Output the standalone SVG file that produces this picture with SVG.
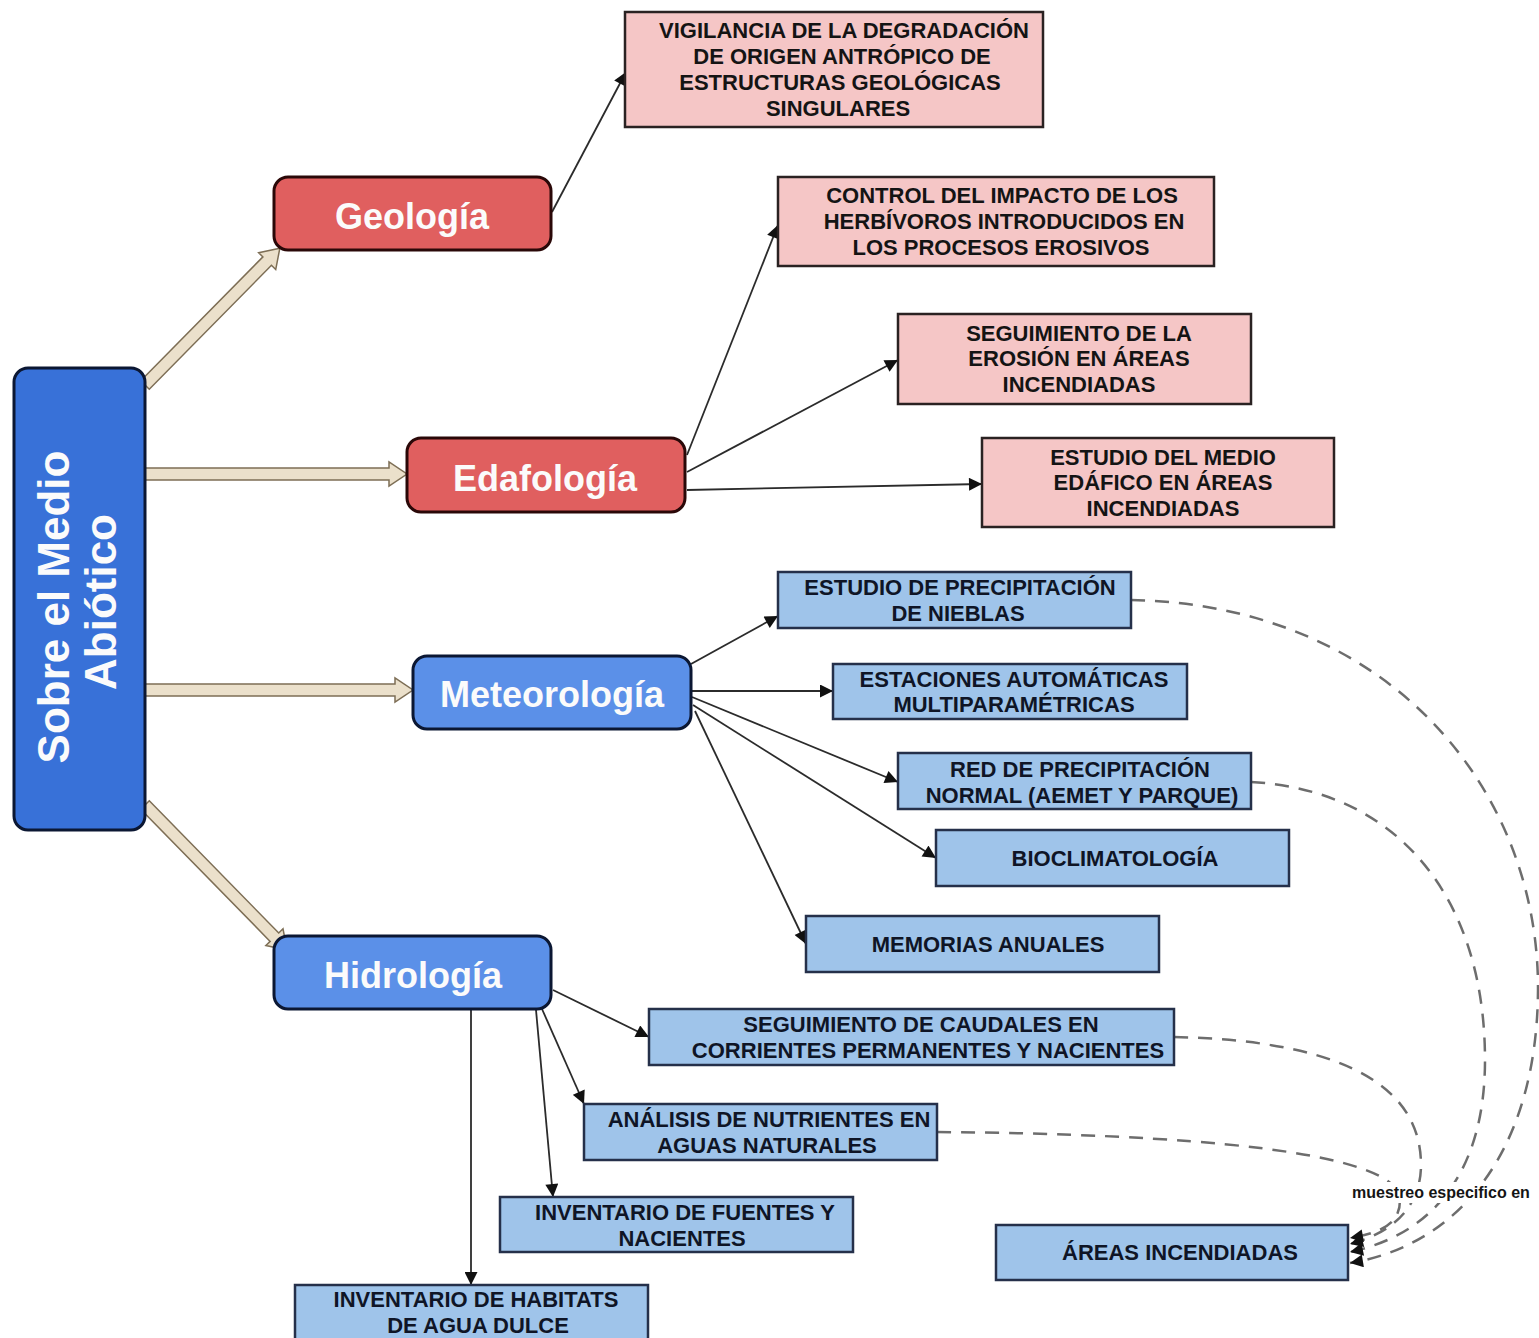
<svg xmlns="http://www.w3.org/2000/svg" width="1539" height="1338" viewBox="0 0 1539 1338">
<style>
.pink{fill:#f5c6c6;stroke:#2a2222;stroke-width:2.5}
.blue{fill:#9fc4ea;stroke:#25304a;stroke-width:2.5}
.t{font-family:"Liberation Sans",Arial,sans-serif;font-weight:bold;font-size:22px;fill:#141414;text-anchor:middle}
.tb{fill:#0f1526}
.h{font-family:"Liberation Sans",Arial,sans-serif;font-weight:bold;font-size:36px;fill:#fbfbfb;text-anchor:middle}
.r{font-family:"Liberation Sans",Arial,sans-serif;font-weight:bold;font-size:44px;fill:#fbfbfb;text-anchor:middle}
.red{fill:#e05f5f;stroke:#2a0808;stroke-width:3}
.mb{fill:#5b90e8;stroke:#0b1733;stroke-width:3}
.big{fill:#ebe0cb;stroke:#7d6e55;stroke-width:1.5}
.ln{stroke:#2b2b2b;stroke-width:1.8;fill:none;marker-end:url(#ah)}
.ds{stroke:#6d6d6d;stroke-width:2.5;fill:none;stroke-dasharray:14 10;marker-end:url(#ah)}
.lab{font-family:"Liberation Sans",Arial,sans-serif;font-weight:bold;font-size:16px;fill:#151515}
</style>
<defs>
<marker id="ah" viewBox="0 0 10 10" refX="10" refY="5" markerWidth="14" markerHeight="13" markerUnits="userSpaceOnUse" orient="auto">
<path d="M0,0 L10,5 L0,10 z" fill="#111"/>
</marker>
</defs>
<rect width="1539" height="1338" fill="#ffffff"/>

<g id="connectors">
<polygon class="big" transform="translate(145,385) rotate(-45.4)" points="0,-6 174,-6 174,-12 192,0 174,12 174,6 0,6"/>
<polygon class="big" transform="translate(145,474)" points="0,-6 244,-6 244,-12 262,0 244,12 244,6 0,6"/>
<polygon class="big" transform="translate(145,690)" points="0,-6 250,-6 250,-12 268,0 250,12 250,6 0,6"/>
<polygon class="big" transform="translate(145,805) rotate(45.6)" points="0,-6 185,-6 185,-12 203,0 185,12 185,6 0,6"/>
<line class="ln" x1="552" y1="212" x2="626" y2="72"/>
<line class="ln" x1="687" y1="455" x2="778" y2="225"/>
<line class="ln" x1="687" y1="472" x2="898" y2="360"/>
<line class="ln" x1="687" y1="490" x2="982" y2="484"/>
<line class="ln" x1="691" y1="664" x2="778" y2="616"/>
<line class="ln" x1="691" y1="691" x2="833" y2="691"/>
<line class="ln" x1="692" y1="697" x2="898" y2="782"/>
<line class="ln" x1="693" y1="705" x2="936" y2="858"/>
<line class="ln" x1="695" y1="711" x2="806" y2="944"/>
<line class="ln" x1="553" y1="990" x2="649" y2="1037"/>
<line class="ln" x1="542" y1="1009" x2="584" y2="1104"/>
<line class="ln" x1="536" y1="1010" x2="553" y2="1197"/>
<line class="ln" x1="471" y1="1010" x2="471" y2="1285"/>
<path class="ds" d="M1131,600 C1390,605 1539,790 1538,990 C1537,1150 1460,1245 1350,1263"/>
<path class="ds" d="M1251,782 C1400,790 1485,900 1485,1060 C1485,1175 1430,1235 1350,1252"/>
<path class="ds" d="M1174,1037 C1320,1040 1421,1075 1421,1165 C1421,1205 1395,1232 1350,1244"/>
<path class="ds" d="M937,1132 C1180,1134 1400,1150 1400,1200 C1400,1222 1385,1232 1350,1238"/>
</g>

<g id="root">
<rect x="14" y="368" width="131" height="462" rx="14" fill="#3871d8" stroke="#0b1733" stroke-width="3"/>
<text class="r" transform="translate(69,607) rotate(-90)">Sobre el Medio</text>
<text class="r" transform="translate(116,602) rotate(-90)">Abiótico</text>
</g>

<g id="geologia">
<rect class="red" x="274" y="177" width="277" height="73" rx="14"/>
<text class="h" x="412" y="229">Geología</text>
</g>
<g id="edafologia">
<rect class="red" x="407" y="438" width="278" height="74" rx="14"/>
<text class="h" x="545" y="491">Edafología</text>
</g>
<g id="meteorologia">
<rect class="mb" x="413" y="656" width="278" height="73" rx="14"/>
<text class="h" x="552" y="707">Meteorología</text>
</g>
<g id="hidrologia">
<rect class="mb" x="274" y="936" width="277" height="73" rx="14"/>
<text class="h" x="413" y="988">Hidrología</text>
</g>

<g id="vigilancia">
<rect class="pink" x="625" y="12" width="418" height="115"/>
<text class="t" x="844" y="38">VIGILANCIA DE LA DEGRADACIÓN</text>
<text class="t" x="842" y="64">DE ORIGEN ANTRÓPICO DE</text>
<text class="t" x="840" y="90">ESTRUCTURAS GEOLÓGICAS</text>
<text class="t" x="838" y="116">SINGULARES</text>
</g>
<g id="control">
<rect class="pink" x="778" y="177" width="436" height="89"/>
<text class="t" x="1002" y="203">CONTROL DEL IMPACTO DE LOS</text>
<text class="t" x="1004" y="229">HERBÍVOROS INTRODUCIDOS EN</text>
<text class="t" x="1001" y="255">LOS PROCESOS EROSIVOS</text>
</g>
<g id="erosion">
<rect class="pink" x="898" y="314" width="353" height="90"/>
<text class="t" x="1079" y="341">SEGUIMIENTO DE LA</text>
<text class="t" x="1079" y="366">EROSIÓN EN ÁREAS</text>
<text class="t" x="1079" y="392">INCENDIADAS</text>
</g>
<g id="edafico">
<rect class="pink" x="982" y="438" width="352" height="89"/>
<text class="t" x="1163" y="465">ESTUDIO DEL MEDIO</text>
<text class="t" x="1163" y="490">EDÁFICO EN ÁREAS</text>
<text class="t" x="1163" y="516">INCENDIADAS</text>
</g>

<g id="nieblas">
<rect class="blue" x="778" y="572" width="353" height="56"/>
<text class="t tb" x="960" y="595">ESTUDIO DE PRECIPITACIÓN</text>
<text class="t tb" x="958" y="621">DE NIEBLAS</text>
</g>
<g id="estaciones">
<rect class="blue" x="833" y="664" width="354" height="55"/>
<text class="t tb" x="1014" y="687">ESTACIONES AUTOMÁTICAS</text>
<text class="t tb" x="1014" y="712">MULTIPARAMÉTRICAS</text>
</g>
<g id="red">
<rect class="blue" x="898" y="753" width="353" height="56"/>
<text class="t tb" x="1080" y="777">RED DE PRECIPITACIÓN</text>
<text class="t tb" x="1082" y="803">NORMAL (AEMET Y PARQUE)</text>
</g>
<g id="bioclimatologia">
<rect class="blue" x="936" y="830" width="353" height="56"/>
<text class="t tb" x="1115" y="866">BIOCLIMATOLOGÍA</text>
</g>
<g id="memorias">
<rect class="blue" x="806" y="916" width="353" height="56"/>
<text class="t tb" x="988" y="952">MEMORIAS ANUALES</text>
</g>
<g id="caudales">
<rect class="blue" x="649" y="1009" width="525" height="56"/>
<text class="t tb" x="921" y="1032">SEGUIMIENTO DE CAUDALES EN</text>
<text class="t tb" x="928" y="1058">CORRIENTES PERMANENTES Y NACIENTES</text>
</g>
<g id="nutrientes">
<rect class="blue" x="584" y="1104" width="353" height="56"/>
<text class="t tb" x="769" y="1127">ANÁLISIS DE NUTRIENTES EN</text>
<text class="t tb" x="767" y="1153">AGUAS NATURALES</text>
</g>
<g id="fuentes">
<rect class="blue" x="500" y="1197" width="353" height="55"/>
<text class="t tb" x="685" y="1220">INVENTARIO DE FUENTES Y</text>
<text class="t tb" x="682" y="1246">NACIENTES</text>
</g>
<g id="habitats">
<rect class="blue" x="295" y="1285" width="353" height="60"/>
<text class="t tb" x="476" y="1307">INVENTARIO DE HABITATS</text>
<text class="t tb" x="478" y="1333">DE AGUA DULCE</text>
</g>
<g id="areas">
<rect class="blue" x="996" y="1225" width="352" height="55"/>
<text class="t tb" x="1180" y="1260">ÁREAS INCENDIADAS</text>
</g>
<g id="label">
<rect x="1350" y="1182" width="189" height="21" fill="#ffffff"/>
<text class="lab" x="1352" y="1198">muestreo especifico en</text>
</g>
</svg>
